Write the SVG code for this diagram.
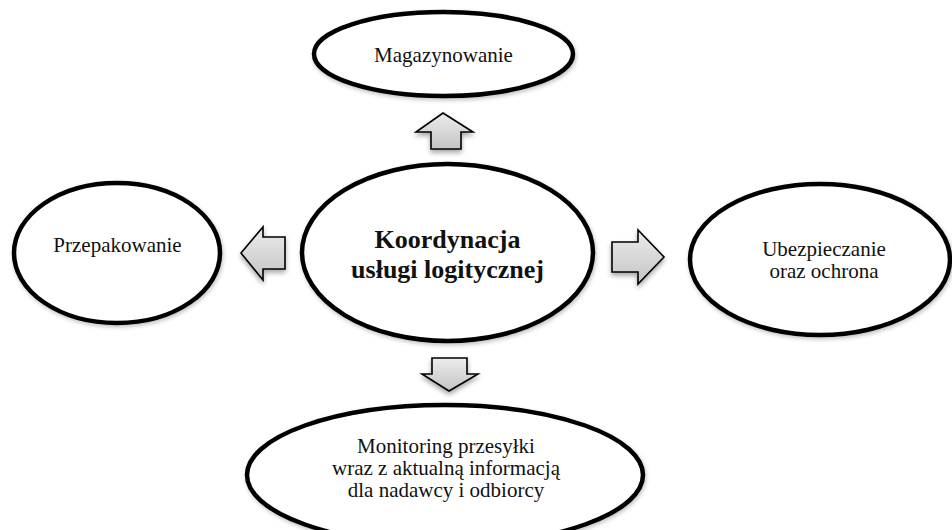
<svg xmlns="http://www.w3.org/2000/svg" width="952" height="530" viewBox="0 0 952 530">
  <defs>
    <linearGradient id="ag" x1="0" y1="0" x2="0" y2="1">
      <stop offset="0" stop-color="#ececec"/>
      <stop offset="1" stop-color="#c4c4c4"/>
    </linearGradient>
    <filter id="sh" x="-20%" y="-20%" width="140%" height="150%">
      <feGaussianBlur in="SourceAlpha" stdDeviation="2.5"/>
      <feOffset dx="0" dy="3" result="b"/>
      <feComponentTransfer><feFuncA type="linear" slope="0.35"/></feComponentTransfer>
      <feMerge><feMergeNode/><feMergeNode in="SourceGraphic"/></feMerge>
    </filter>
    <filter id="esh" x="-10%" y="-10%" width="120%" height="130%">
      <feGaussianBlur in="SourceAlpha" stdDeviation="2"/>
      <feOffset dx="1" dy="2" result="b"/>
      <feComponentTransfer><feFuncA type="linear" slope="0.25"/></feComponentTransfer>
      <feMerge><feMergeNode/><feMergeNode in="SourceGraphic"/></feMerge>
    </filter>
  </defs>
  <style>
    .node ellipse { fill: #ffffff; stroke: #000000; stroke-width: 4.5; }
    .lbl { font-family: "Liberation Serif", "Times New Roman", serif; font-size: 21px; fill: #111; text-anchor: middle; }
    .bold { font-weight: bold; font-size: 26px; }
    .arrow { fill: url(#ag); stroke: #000; stroke-width: 1.6; stroke-linejoin: miter; filter: url(#sh); }
  </style>
  <rect width="952" height="530" fill="#ffffff"/>

  <g id="magazynowanie" class="node">
    <ellipse cx="443.5" cy="54" rx="129.5" ry="42" filter="url(#esh)"/>
    <text class="lbl" x="443.5" y="62">Magazynowanie</text>
  </g>

  <g id="koordynacja" class="node">
    <ellipse cx="447.5" cy="252.5" rx="145.5" ry="88.5" filter="url(#esh)"/>
    <text class="lbl bold" x="447.5" y="248">Koordynacja</text>
    <text class="lbl bold" x="447.5" y="278">usługi logitycznej</text>
  </g>

  <g id="przepakowanie" class="node">
    <ellipse cx="117" cy="253" rx="103" ry="70" filter="url(#esh)"/>
    <text class="lbl" x="117.5" y="252">Przepakowanie</text>
  </g>

  <g id="ubezpieczanie" class="node">
    <ellipse cx="820" cy="259.5" rx="130" ry="75.5" filter="url(#esh)"/>
    <text class="lbl" x="824" y="256">Ubezpieczanie</text>
    <text class="lbl" x="824" y="278">oraz ochrona</text>
  </g>

  <g id="monitoring" class="node">
    <ellipse cx="445" cy="475" rx="198" ry="70" filter="url(#esh)"/>
    <text class="lbl" x="446" y="453">Monitoring przesyłki</text>
    <text class="lbl" x="446" y="475">wraz z aktualną informacją</text>
    <text class="lbl" x="446" y="497">dla nadawcy i odbiorcy</text>
  </g>

  <g id="connectors">
    <polygon class="arrow" points="443,113 473,132 461,132 461,149 431,149 431,132 416,132"/>
    <polygon class="arrow" points="432,358 467,358 467,374 478,374 449,391 422,374 432,374"/>
    <polygon class="arrow" points="241,253 263,227 263,237 285,237 285,269 263,269 263,280"/>
    <polygon class="arrow" points="612,242 638,242 638,230 664,257 638,284 638,272 612,272"/>
  </g>
</svg>
